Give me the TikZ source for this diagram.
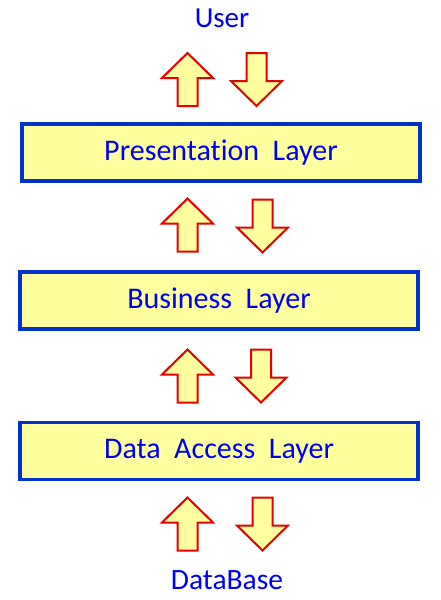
\documentclass[tikz,border=0pt]{standalone}
\usepackage{fontspec}
\setmainfont[Ligatures={NoCommon,NoContextual}]{Carlito}
\definecolor{txtblue}{RGB}{0,0,240}
\definecolor{boxblue}{RGB}{0,51,204}
\definecolor{boxfill}{RGB}{255,255,160}
\definecolor{arred}{RGB}{230,0,0}
\tikzset{
  layerbox/.style={draw=boxblue, line width=3.5pt, fill=boxfill, minimum width=398pt, minimum height=57pt, inner sep=0pt, text=txtblue, font=\fontsize{30}{32}\selectfont},
  endlabel/.style={text=txtblue, inner sep=0pt},
  arrowshape/.style={draw=arred, fill=boxfill, line width=2pt, line join=miter},
  uparr/.pic={\draw[arrowshape] (0,-26.5) -- (25.5,-1.5) -- (10,-1.5) -- (10,26.5) -- (-10,26.5) -- (-10,-1.5) -- (-25.5,-1.5) -- cycle;},
  downarr/.pic={\draw[arrowshape] (0,26.5) -- (25.5,1.5) -- (10,1.5) -- (10,-26.5) -- (-10,-26.5) -- (-10,1.5) -- (-25.5,1.5) -- cycle;}
}
\begin{document}
\begin{tikzpicture}[x=1pt,y=-1pt]
\useasboundingbox[fill=white] (0,0) rectangle (440,600);
\node[endlabel, font=\fontsize{29}{31}\selectfont] (user) at (222,18) {User};
\node[layerbox] (pres) at (221,152.5) {\raisebox{-1.5pt}{Presentation\ \ Layer}};
\node[layerbox] (bus) at (219,300.5) {\raisebox{-1.5pt}{Business\ \ Layer}};
\node[layerbox] (data) at (219,451) {\raisebox{-1.5pt}{Data\ \ Access\ \ Layer}};
\node[endlabel, font=\fontsize{29.5}{31}\selectfont] (db) at (227,580) {DataBase};
\pic at (187.5,79.5) {uparr};
\pic at (256.5,79.5) {downarr};
\pic at (187.5,225) {uparr};
\pic at (262.5,226) {downarr};
\pic at (187.5,376) {uparr};
\pic at (261,376) {downarr};
\pic at (187.5,524) {uparr};
\pic at (262.5,524) {downarr};
\end{tikzpicture}
\end{document}
